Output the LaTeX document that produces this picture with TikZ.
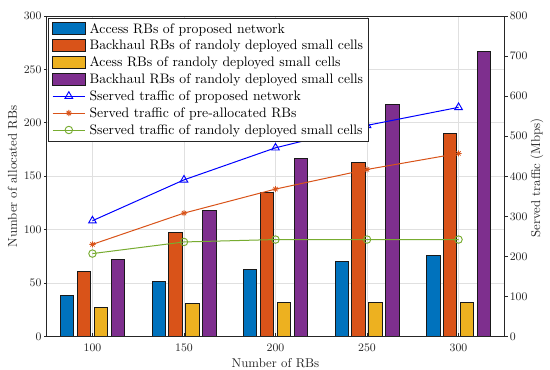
\documentclass[tikz,border=0pt]{standalone}
\usetikzlibrary{shapes.geometric}
\definecolor{mblue}{rgb}{0,0.447,0.741}
\definecolor{morange}{rgb}{0.85,0.325,0.098}
\definecolor{myellow}{rgb}{0.929,0.694,0.125}
\definecolor{mpurple}{rgb}{0.494,0.184,0.556}
\definecolor{lblue}{rgb}{0,0,1}
\definecolor{lgreen}{rgb}{0.466,0.674,0.188}
\definecolor{gridc}{gray}{0.88}
\definecolor{axc}{gray}{0.15}
\newcommand\mastmark[1]{\draw[morange, line width=0.6pt, shift={(#1)}] (-2.3pt,0)--(2.3pt,0) (0,-2.3pt)--(0,2.3pt) (-1.6pt,-1.6pt)--(1.6pt,1.6pt) (-1.6pt,1.6pt)--(1.6pt,-1.6pt);}
\tikzset{
  barbox/.style={draw=black!90, line width=0.6pt},
  gridl/.style={draw=gridc, line width=0.6pt},
  axl/.style={draw=axc, line width=0.6pt},
  ticklab/.style={font=\fontsize{8.6}{10}\selectfont, inner sep=0pt, text=axc},
  axlab/.style={font=\fontsize{9.6}{11}\selectfont, inner sep=0pt, text=axc},
  legtext/.style={font=\fontsize{10.3}{12}\selectfont, inner sep=0pt, anchor=base west},
  triM/.style={regular polygon, regular polygon sides=3, draw=lblue, line width=0.7pt, minimum size=6.6pt, inner sep=0pt},
  circM/.style={circle, draw=lgreen, line width=0.7pt, minimum size=5.6pt, inner sep=0pt},
  pl/.style={line width=0.75pt},
  leftax/.style={shift={(35.025pt,-252.375pt)}, x=1.3728pt, y=0.80125pt},
  rightax/.style={shift={(35.025pt,-252.375pt)}, x=1.3728pt, y=0.30047pt}
}
\begin{document}
\begin{tikzpicture}[x=0.75pt,y=-0.75pt]
\useasboundingbox (0,0) rectangle (550,369);
\fill[white] (0,0) rectangle (550,369);

% ---------- left axis scope: grid and bars ----------
\begin{scope}[leftax]
  \foreach \g in {25,75,125,175,225} \draw[gridl] (\g,0) -- (\g,300);
  \foreach \v in {50,100,...,250} \draw[gridl] (0,\v) -- (250,\v);
  \foreach \g in {25,75,125,175,225} \draw[axl] (\g,0) -- ++(0,2.4pt);
  % bars
  \foreach \v [count=\i] in {38.5,52,62.5,70,76}
    {\pgfmathsetmacro\c{25+50*(\i-1)-13.82}
     \draw[barbox, fill=mblue] (\c-3.645,0) rectangle (\c+3.645,\v);}
  \foreach \v [count=\i] in {60.5,97,135,163,190}
    {\pgfmathsetmacro\c{25+50*(\i-1)-4.64}
     \draw[barbox, fill=morange] (\c-3.645,0) rectangle (\c+3.645,\v);}
  \foreach \v [count=\i] in {27.5,31,32,32,32}
    {\pgfmathsetmacro\c{25+50*(\i-1)+4.64}
     \draw[barbox, fill=myellow] (\c-3.645,0) rectangle (\c+3.645,\v);}
  \foreach \v [count=\i] in {72,118,167,217,267}
    {\pgfmathsetmacro\c{25+50*(\i-1)+13.82}
     \draw[barbox, fill=mpurple] (\c-3.645,0) rectangle (\c+3.645,\v);}
  % left ticks and labels
  \foreach \v in {0,50,...,300}
    {\draw[axl] (0,\v) -- ++(-2.4pt,0);
     \node[ticklab, anchor=east, xshift=-3.75pt] (yl\v) at (0,\v) {\v};}
  \foreach \g/\t in {25/100,75/150,125/200,175/250,225/300}
    \node[ticklab, anchor=north, yshift=-5pt] (xl\t) at (\g,0) {\t};
\end{scope}

% ---------- right axis scope: lines ----------
\begin{scope}[rightax]
  \foreach \v [count=\i] in {289,391,471,527,572} \coordinate (b\i) at ({25+50*(\i-1)},\v);
  \foreach \v [count=\i] in {230,308,368,417,457} \coordinate (o\i) at ({25+50*(\i-1)},\v);
  \foreach \v [count=\i] in {207,236,242,242,242} \coordinate (g\i) at ({25+50*(\i-1)},\v);
  \draw[pl, lblue] (b1) -- (b2) -- (b3) -- (b4) -- (b5);
  \draw[pl, morange] (o1) -- (o2) -- (o3) -- (o4) -- (o5);
  \draw[pl, lgreen] (g1) -- (g2) -- (g3) -- (g4) -- (g5);
  \foreach \i in {1,...,5} {\node[triM] (tb\i) at (b\i) {};}
  \foreach \i in {1,...,5} {\mastmark{o\i}}
  \foreach \i in {1,...,5} {\node[circM] (cg\i) at (g\i) {};}
  % right ticks and labels
  \foreach \v in {0,100,...,800}
    {\draw[axl] (250,\v) -- ++(2.4pt,0);
     \node[ticklab, anchor=west, xshift=3.9pt] (yr\v) at (250,\v) {\v};}
\end{scope}

% ---------- axes box ----------
\draw[axl] (46.7,16) rectangle (504.3,336.5);

% ---------- axis labels ----------
\node[axlab, anchor=base] (xlab) at (275.5,367.6) {Number of RBs};
\node[axlab, anchor=base, rotate=90] (ylab) at (16.8,176.5) {Number of allocated RBs};
\node[axlab, anchor=base, rotate=90] (rlab) at (540,178) {Served traffic (Mbps)};

% ---------- legend ----------
\draw[draw=axc, fill=white, line width=0.6pt] (48.3,18.3) rectangle (368.3,141.7);
\draw[barbox, fill=mblue]   (52.7,22.5) rectangle (85,34.1);
\draw[barbox, fill=morange] (52.7,39.45) rectangle (85,51.05);
\draw[barbox, fill=myellow] (52.7,56.4) rectangle (85,68.0);
\draw[barbox, fill=mpurple] (52.7,73.35) rectangle (85,84.95);
\coordinate (lb1) at (52.7,96.1);   \coordinate (lb2) at (85,96.1);   \coordinate (lbm) at (68.85,96.1);
\coordinate (lo1) at (52.7,113.05); \coordinate (lo2) at (85,113.05); \coordinate (lom) at (68.85,113.05);
\coordinate (lg1) at (52.7,130.0);  \coordinate (lg2) at (85,130.0);  \coordinate (lgm) at (68.85,130.0);
\draw[pl, lblue] (lb1) -- (lb2);
\draw[pl, morange] (lo1) -- (lo2);
\draw[pl, lgreen] (lg1) -- (lg2);
\node[triM] (ltri) at (lbm) {};
\mastmark{lom}
\node[circM] (lcirc) at (lgm) {};
\node[legtext] (t1) at (89.3,33.0)  {Access RBs of proposed network};
\node[legtext] (t2) at (89.3,49.95) {Backhaul RBs of randoly deployed small cells};
\node[legtext] (t3) at (89.3,66.9)  {Acess RBs of randoly deployed small cells};
\node[legtext] (t4) at (89.3,83.85) {Backhaul RBs of randoly deployed small cells};
\node[legtext] (t5) at (89.3,100.8) {Sserved traffic of proposed network};
\node[legtext] (t6) at (89.3,117.75){Served traffic of pre-allocated RBs};
\node[legtext] (t7) at (89.3,134.7) {Sserved traffic of randoly deployed small cells};
\end{tikzpicture}
\end{document}
